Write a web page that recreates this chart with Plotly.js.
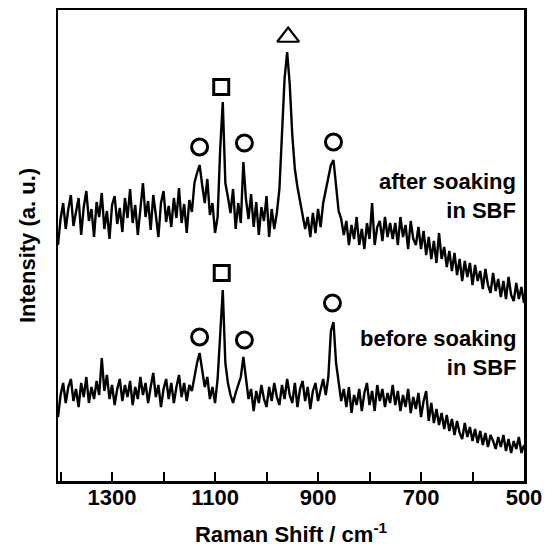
<!DOCTYPE html>
<html>
<head>
<meta charset="utf-8">
<script src="https://cdn.plot.ly/plotly-3.0.1.min.js"></script>
<style>html,body{margin:0;padding:0;background:#fff;}#chart{width:552px;height:547px;}</style>
</head>
<body>
<div id="chart"></div>
<script>
// Raman shift (cm^-1), sampled every 5 cm^-1
var shift = [1405,1400,1395,1390,1385,1380,1375,1370,1365,1360,1355,1350,1345,1340,1335,1330,1325,1320,1315,1310,
1305,1300,1295,1290,1285,1280,1275,1270,1265,1260,1255,1250,1245,1240,1235,1230,1225,1220,1215,1210,
1205,1200,1195,1190,1185,1180,1175,1170,1165,1160,1155,1150,1145,1140,1135,1130,1125,1120,1115,1110,
1105,1100,1095,1090,1085,1080,1075,1070,1065,1060,1055,1050,1045,1040,1035,1030,1025,1020,1015,1010,
1005,1000,995,990,985,980,975,970,965,960,955,950,945,940,935,930,925,920,915,910,
905,900,895,890,885,880,875,870,865,860,855,850,845,840,835,830,825,820,815,810,
805,800,795,790,785,780,775,770,765,760,755,750,745,740,735,730,725,720,715,710,
705,700,695,690,685,680,675,670,665,660,655,650,645,640,635,630,625,620,615,610,
605,600,595,590,585,580,575,570,565,560,555,550,545,540,535,530,525,520,515,510,
505,500];

// after soaking in SBF (a. u.)
var afterSBF = [236,262,278,252,272,286,255,268,283,246,274,290,260,272,244,279,264,288,252,270,
242,276,285,257,273,249,283,263,292,258,276,246,272,298,264,280,251,286,266,244,
278,290,259,275,254,283,263,293,258,277,248,281,269,298,308,316,296,278,302,266,
278,248,264,332,379,298,284,268,292,252,278,258,319,282,262,287,254,279,246,274,
260,285,244,272,252,268,292,342,402,429,397,346,312,294,280,268,252,264,244,268,
248,272,254,278,290,302,316,321,292,270,262,246,260,236,256,242,264,236,252,232,
258,242,278,236,254,260,240,264,244,258,242,258,236,264,244,256,232,260,242,236,
254,232,250,226,244,222,240,218,248,222,234,214,230,210,228,206,222,200,220,204,
218,196,216,200,210,192,212,196,188,208,190,202,184,200,182,204,186,180,198,182,
194,178];

// before soaking in SBF (a. u.)
var beforeSBF = [64,86,98,78,94,102,80,92,74,98,84,104,78,94,82,100,86,123,90,106,
82,96,76,92,102,80,96,84,100,76,94,82,104,86,98,78,94,108,84,96,
74,92,102,82,98,78,94,106,84,98,80,96,90,106,118,128,112,94,104,82,
94,78,102,150,191,118,98,86,78,88,96,104,124,100,82,92,70,90,78,96,
82,74,94,80,98,84,76,96,82,102,86,78,98,74,92,100,80,94,72,90,
98,80,92,102,86,104,150,159,118,96,80,92,74,94,68,86,76,92,70,88,
98,76,90,70,96,80,92,74,88,78,96,76,90,70,86,74,92,68,84,72,
88,64,80,90,60,78,58,72,56,68,52,66,50,62,46,60,48,42,58,44,
54,40,52,38,50,36,48,34,46,40,32,44,34,46,30,42,28,40,32,44,
28,36];

// peak assignment symbols
var circShift = [1130, 1043, 870, 1130, 1043, 872];
var circY = [334, 338, 339, 144, 141, 178];
var sqShift = [1088, 1087];
var sqY = [394, 208];
var triShift = [958];
var triY = [444];

// axis ticks and labels
var labelTicks = [1300, 1100, 900, 700, 500];
var labelText = ['1300', '1100', '900', '700', '500'];

var lineStyle = {color: '#000', width: 2.4};
var traces = [
  {x: shift, y: afterSBF, mode: 'lines', line: lineStyle, name: 'after soaking in SBF'},
  {x: shift, y: beforeSBF, mode: 'lines', line: lineStyle, name: 'before soaking in SBF'},
  {x: circShift, y: circY, mode: 'markers', name: 'circle',
   marker: {symbol: 'circle-open', size: 16, color: '#000', line: {width: 3, color: '#000'}}},
  {x: sqShift, y: sqY, mode: 'markers', name: 'square',
   marker: {symbol: 'square-open', size: 15, color: '#000', line: {width: 3, color: '#000'}}},
  {x: triShift, y: triY, mode: 'markers', name: 'triangle',
   marker: {symbol: 'triangle-up-open', size: 19, color: '#000', line: {width: 2.2, color: '#000'}}}
];

var fontFam = '"Liberation Sans", Arial, Helvetica, sans-serif';
var boldFont = {size: 22, family: fontFam, color: '#000', weight: 'bold'};
var layout = {
  width: 552, height: 547,
  margin: {l: 58, r: 28, t: 10, b: 66},
  paper_bgcolor: '#fff', plot_bgcolor: '#fff',
  showlegend: false,
  font: {family: fontFam, color: '#000', size: 22},
  xaxis: {
    range: [1405, 500],
    tickvals: labelTicks,
    ticktext: labelText,
    ticks: 'inside', ticklen: 9, tickwidth: 2, tickcolor: '#000',
    ticklabelstandoff: -5,
    minor: {tick0: 500, dtick: 100, ticks: 'inside', ticklen: 9, tickwidth: 2, tickcolor: '#000'},
    showline: true, linecolor: '#000', linewidth: 2.5, mirror: true,
    showgrid: false, zeroline: false,
    tickfont: boldFont,
    title: {text: 'Raman Shift / cm<sup>-1</sup>', font: boldFont, standoff: 21}
  },
  yaxis: {
    range: [0, 471],
    showticklabels: false, ticks: '',
    showline: true, linecolor: '#000', linewidth: 2.5, mirror: true,
    showgrid: false, zeroline: false,
    title: {text: 'Intensity (a. u.)', font: boldFont, standoff: 14}
  },
  annotations: [
    {xref: 'paper', yref: 'paper', x: 0.987, y: 0.606, xanchor: 'right', yanchor: 'middle', align: 'right',
     showarrow: false, text: 'after soaking<br>in SBF', font: boldFont},
    {xref: 'paper', yref: 'paper', x: 0.987, y: 0.271, xanchor: 'right', yanchor: 'middle', align: 'right',
     showarrow: false, text: 'before soaking<br>in SBF', font: boldFont}
  ]
};

Plotly.newPlot('chart', traces, layout, {displayModeBar: false, staticPlot: true});
</script>
</body>
</html>
